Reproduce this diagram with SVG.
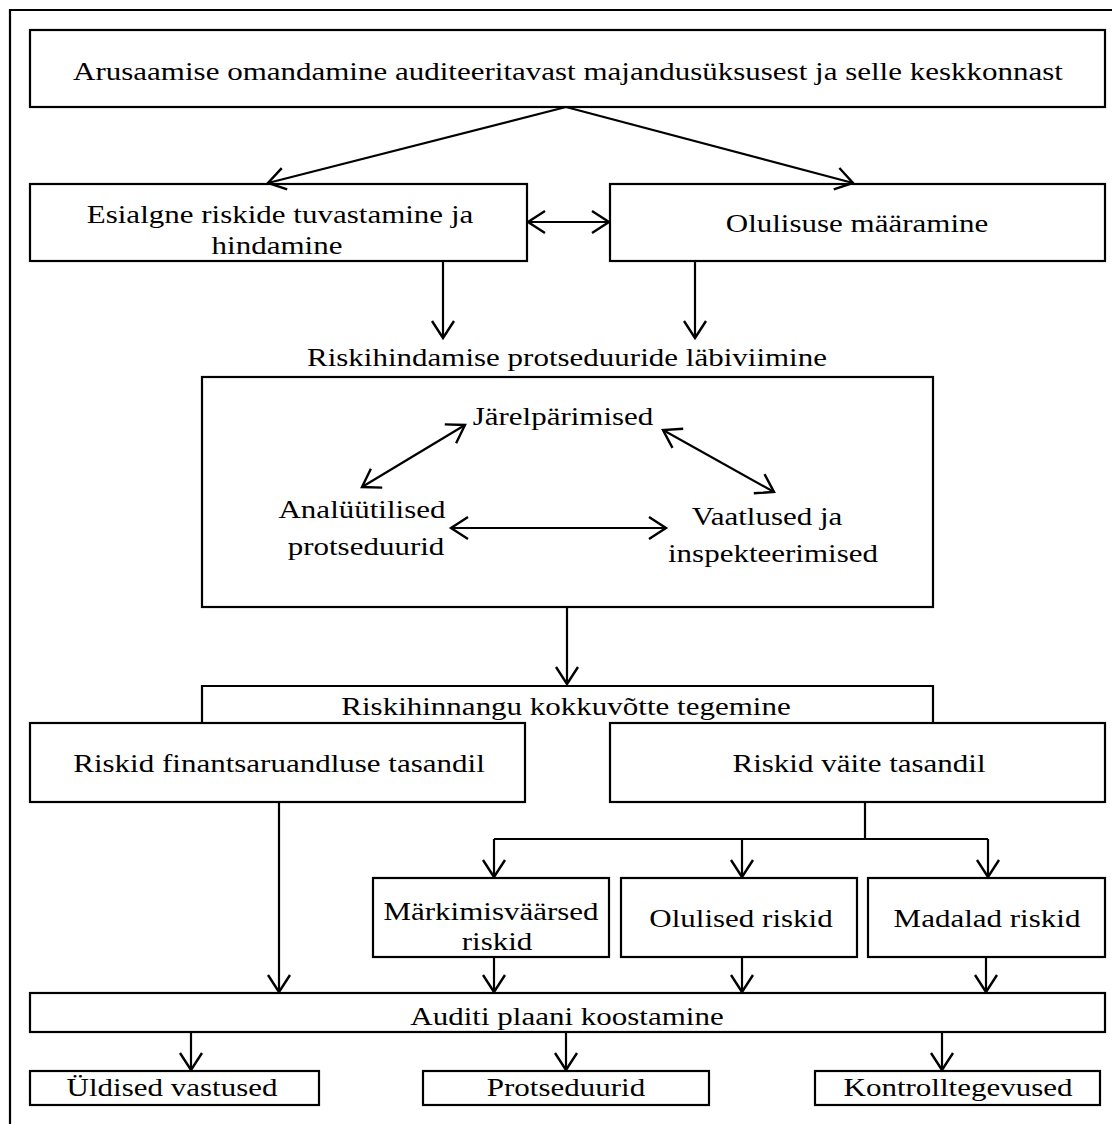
<svg xmlns="http://www.w3.org/2000/svg" width="1112" height="1124" viewBox="0 0 1112 1124">
<style>
.b{fill:#fff;stroke:#000;stroke-width:2.2}
.o{fill:none;stroke:#000;stroke-width:2.2}
.t{font-family:"Liberation Serif","Times New Roman",serif;font-size:25px;fill:#000;text-anchor:middle}
.c{fill:none;stroke:#000;stroke-width:2.2}
.a{marker-end:url(#ah)}
.d{marker-start:url(#ah);marker-end:url(#ah)}
</style>
<defs>
<marker id="ah" markerUnits="userSpaceOnUse" markerWidth="24" markerHeight="28" viewBox="-1 -1 22 28" refX="18" refY="12" orient="auto-start-reverse">
<path d="M1,1 L18,12 L1,23" fill="none" stroke="#000" stroke-width="2.4"/>
</marker>
</defs>
<rect width="1112" height="1124" fill="#fff"/>
<path d="M10,1124 V10 H1112" fill="none" stroke="#000" stroke-width="2.2"/>

<g id="n-arusaamine">
<rect class="b" x="30" y="30" width="1075" height="77"/>
<text class="t" transform="translate(568,80) scale(1.24,1)">Arusaamise omandamine auditeeritavast majandusüksusest ja selle keskkonnast</text>
</g>
<g id="n-esialgne">
<rect class="b" x="30" y="184" width="497" height="77"/>
<text class="t" transform="translate(280,223) scale(1.24,1)">Esialgne riskide tuvastamine ja</text>
<text class="t" transform="translate(277,254) scale(1.24,1)">hindamine</text>
</g>
<g id="n-olulisus">
<rect class="b" x="610" y="184" width="495" height="77"/>
<text class="t" transform="translate(857,232) scale(1.24,1)">Olulisuse määramine</text>
</g>
<g id="n-riskihindamine">
<text class="t" transform="translate(567,366) scale(1.24,1)">Riskihindamise protseduuride läbiviimine</text>
<rect class="o" x="202" y="377" width="731" height="230"/>
</g>
<g id="n-jarelparimised">
<text class="t" transform="translate(563,425) scale(1.24,1)">Järelpärimised</text>
</g>
<g id="n-analyytilised">
<text class="t" transform="translate(362,518) scale(1.24,1)">Analüütilised</text>
<text class="t" transform="translate(366,555) scale(1.24,1)">protseduurid</text>
</g>
<g id="n-vaatlused">
<text class="t" transform="translate(767,525) scale(1.24,1)">Vaatlused ja</text>
<text class="t" transform="translate(773,562) scale(1.24,1)">inspekteerimised</text>
</g>
<g id="n-kokkuvote">
<path class="o" d="M202,723 V686 H933 V723"/>
<text class="t" transform="translate(566,715) scale(1.24,1)">Riskihinnangu kokkuvõtte tegemine</text>
</g>
<g id="n-fin">
<rect class="b" x="30" y="723" width="495" height="79"/>
<text class="t" transform="translate(279,772) scale(1.24,1)">Riskid finantsaruandluse tasandil</text>
</g>
<g id="n-vaite">
<rect class="b" x="610" y="723" width="495" height="79"/>
<text class="t" transform="translate(859,772) scale(1.24,1)">Riskid väite tasandil</text>
</g>
<g id="n-markimisvaarsed">
<rect class="b" x="373" y="878" width="236" height="79"/>
<text class="t" transform="translate(491,920) scale(1.24,1)">Märkimisväärsed</text>
<text class="t" transform="translate(497,950) scale(1.24,1)">riskid</text>
</g>
<g id="n-olulised">
<rect class="b" x="621" y="878" width="236" height="79"/>
<text class="t" transform="translate(741,927) scale(1.24,1)">Olulised riskid</text>
</g>
<g id="n-madalad">
<rect class="b" x="868" y="878" width="237" height="79"/>
<text class="t" transform="translate(987,927) scale(1.24,1)">Madalad riskid</text>
</g>
<g id="n-auditiplaan">
<rect class="b" x="30" y="993" width="1075" height="39"/>
<text class="t" transform="translate(567,1025) scale(1.24,1)">Auditi plaani koostamine</text>
</g>
<g id="n-yldised">
<rect class="b" x="30" y="1071" width="289" height="34"/>
<text class="t" transform="translate(172,1096) scale(1.24,1)">Üldised vastused</text>
</g>
<g id="n-protseduurid">
<rect class="b" x="423" y="1071" width="286" height="34"/>
<text class="t" transform="translate(566,1096) scale(1.24,1)">Protseduurid</text>
</g>
<g id="n-kontroll">
<rect class="b" x="815" y="1071" width="285" height="34"/>
<text class="t" transform="translate(958,1096) scale(1.24,1)">Kontrolltegevused</text>
</g>

<g id="connectors">
<path class="c a" d="M566,107 L268,183"/>
<path class="c a" d="M566,107 L853,183"/>
<path class="c d" d="M528,222 H609"/>
<path class="c a" d="M443,261 V338"/>
<path class="c a" d="M695,261 V338"/>
<path class="c d" d="M362,487 L465,425"/>
<path class="c d" d="M663,430 L774,492"/>
<path class="c d" d="M451,528 H666"/>
<path class="c a" d="M567,607 V684"/>
<path class="c" d="M865,802 V839 M494,839 H988"/>
<path class="c a" d="M494,839 V877"/>
<path class="c a" d="M742,839 V877"/>
<path class="c a" d="M988,839 V877"/>
<path class="c a" d="M279,802 V992"/>
<path class="c a" d="M494,957 V992"/>
<path class="c a" d="M742,957 V992"/>
<path class="c a" d="M986,957 V992"/>
<path class="c a" d="M191,1032 V1070"/>
<path class="c a" d="M566,1032 V1070"/>
<path class="c a" d="M942,1032 V1070"/>
</g>
</svg>
